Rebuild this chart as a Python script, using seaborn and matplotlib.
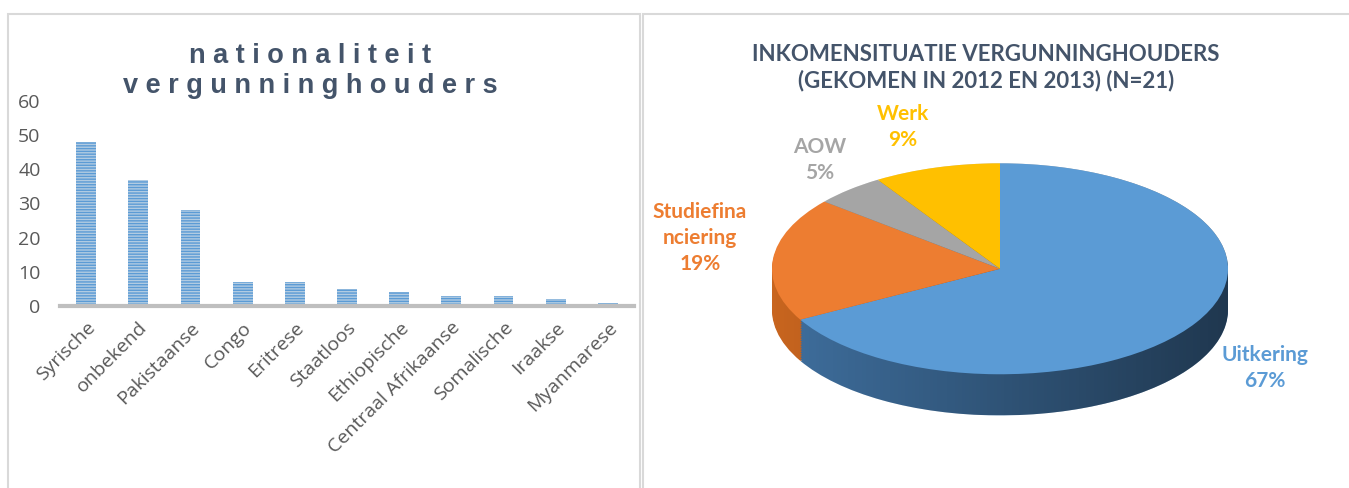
import numpy as np
import matplotlib
matplotlib.use("Agg")
import matplotlib.pyplot as plt
import seaborn as sns
import pandas as pd
from matplotlib.patches import Rectangle, Polygon

# data
nationalities = ["Syrische", "onbekend", "Pakistaanse", "Congo", "Eritrese", "Staatloos",
                 "Ethiopische", "Centraal Afrikaanse", "Somalische", "Iraakse", "Myanmarese"]
counts = [48, 37, 28, 7, 7, 5, 4, 3, 3, 2, 1]

income_labels = ["Uitkering", "Studiefina\nnciering", "AOW", "Werk"]
income_pct = [67, 19, 5, 9]
income_colors = ["#5B9BD5", "#ED7D31", "#A5A5A5", "#FFC000"]
side_colors = ["#3F6F9E", "#C8651F", "#7F7F7F", "#C89600"]

sns.set_theme(style="white")
plt.rcParams['font.family'] = ['Open Sans', 'DejaVu Sans']

W, H = 1349, 488
fig = plt.figure(figsize=(W / 100, H / 100), dpi=100)

def fx(px):
    return px / W

def fy(py):
    return 1 - py / H

# panel frames
fig.patches.append(Rectangle((fx(8), fy(500)), fx(632), fy(14) - fy(500), transform=fig.transFigure,
                             fill=False, edgecolor="#D9D9D9", lw=1.5))
fig.patches.append(Rectangle((fx(643), fy(500)), fx(720), fy(14) - fy(500), transform=fig.transFigure,
                             fill=False, edgecolor="#D9D9D9", lw=1.5))

# ---- bar chart ----
ax = fig.add_axes([fx(60), fy(306), fx(574), fy(101) - fy(306)])
df = pd.DataFrame({"nat": nationalities, "n": counts})
sns.barplot(data=df, x="nat", y="n", ax=ax, color="#A9CBEA", width=0.38, errorbar=None)
plt.rcParams['hatch.linewidth'] = 1.4
for p in ax.patches:
    p.set_hatch("------")
    p.set_edgecolor("#5B9BD5")
    p.set_linewidth(0)
ax.set_ylim(0, 60)
ax.set_xlim(-0.5, 10.5)
ax.set_yticks(range(0, 61, 10))
ax.set_xlabel("")
ax.set_ylabel("")
for s in ["top", "right", "left"]:
    ax.spines[s].set_visible(False)
ax.spines["bottom"].set_color("#BFBFBF")
ax.spines["bottom"].set_linewidth(3)
ax.tick_params(axis="both", length=0, labelsize=14, labelcolor="#595959")
ax.tick_params(axis="y", pad=14)
ax.set_xticks(range(len(nationalities)))
ax.set_xticklabels(nationalities, rotation=45, ha="right", rotation_mode="anchor")
ax.tick_params(axis="x", pad=9)

title = "\n".join(" ".join(list(w)) for w in ["nationaliteit", "vergunninghouders"])
fig.text(fx(310), fy(71), title, ha="center", va="center", fontsize=19.5, fontweight="bold",
         color="#44546A", family=["Liberation Sans", "DejaVu Sans"], linespacing=1.2)

# ---- 3D-ish pie ----
depth = 0.39
pax = fig.add_axes([fx(772), fy(427), fx(456), fy(157) - fy(427)])
n_layers = 24
for k in range(n_layers, 0, -1):
    off = -depth * k / n_layers
    pax.pie(income_pct, colors=side_colors, startangle=90, counterclock=False,
            center=(0, off), wedgeprops=dict(linewidth=0), radius=1)

# shading gradient on the side
t1 = np.linspace(0, np.pi, 100)
t2 = np.linspace(np.pi, 2 * np.pi, 100)
band = np.vstack([np.column_stack([np.cos(t1), np.sin(t1)]),
                  np.column_stack([np.cos(t2), np.sin(t2) - depth])])
clip = Polygon(band, closed=True, transform=pax.transData, facecolor="none", edgecolor="none")
pax.add_patch(clip)
grad = np.linspace(0, 1, 256).reshape(1, -1)
img = pax.imshow(grad, extent=(-1, 1, -1 - depth, 1), cmap=matplotlib.colors.LinearSegmentedColormap.from_list(
    "shade", [(0, 0, 0, 0.0), (0, 0, 0, 0.5)]), aspect="auto", zorder=5)
img.set_clip_path(clip)

wedges, _ = pax.pie(income_pct, colors=income_colors, startangle=90, counterclock=False,
                    wedgeprops=dict(linewidth=0), radius=1)
for w in wedges:
    w.set_zorder(10)
pax.set_aspect("auto")
pax.set_xlim(-1, 1)
pax.set_ylim(-1 - depth - 0.11, 1.06)
pax.axis("off")

fig.text(fx(986), fy(68), "INKOMENSITUATIE VERGUNNINGHOUDERS\n(GEKOMEN IN 2012 EN 2013) (N=21)",
         ha="center", va="center", fontsize=16, fontweight="bold", color="#44546A",
         family=["Lato", "DejaVu Sans"], linespacing=1.25)

label_pos = [(1265, 368), (700, 238), (820, 160), (903, 127)]
for lab, pct, col, (x, y) in zip(income_labels, income_pct, income_colors, label_pos):
    fig.text(fx(x), fy(y), f"{lab}\n{pct}%", ha="center", va="center", fontsize=15,
             fontweight="bold", color=col, family=["Lato", "DejaVu Sans"], linespacing=1.35)

fig.savefig("out.png", dpi=100)
